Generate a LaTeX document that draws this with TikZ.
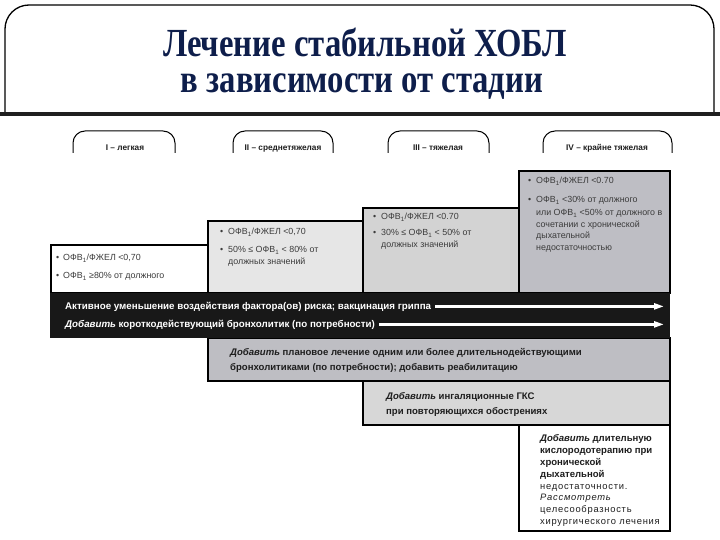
\documentclass[tikz,border=0pt]{standalone}
\usepackage{fontspec}
\setmainfont{Liberation Sans}
\newfontfamily\titlefont[FakeStretch=0.82]{Liberation Serif}
\newfontfamily\spacedfont[LetterSpace=8]{Liberation Sans}
\usetikzlibrary{arrows.meta}
\definecolor{titleblue}{RGB}{14,30,75}
\definecolor{cII}{RGB}{230,230,230}
\definecolor{cIII}{RGB}{211,211,211}
\definecolor{cIV}{RGB}{190,190,196}
\definecolor{cplan}{RGB}{190,190,195}
\definecolor{cgks}{RGB}{215,215,215}
\definecolor{band}{RGB}{24,24,24}
\definecolor{stxt}{RGB}{60,60,60}
\definecolor{btxt}{RGB}{30,30,30}
\newcommand{\ofv}{ОФВ\textsubscript{1}}
\begin{document}
\begin{tikzpicture}[x=1bp,y=-1bp,
  frame/.style={draw=black,line width=1.3bp},
  tabline/.style={draw=black,line width=1bp,rounded corners=12bp},
  tablabel/.style={font=\fontsize{8.3}{9}\selectfont\bfseries,text=btxt,inner sep=0pt,anchor=base},
  boxline/.style={draw=black,line width=1.3bp},
  stage/.style={font=\fontsize{8.9}{12}\selectfont,text=stxt,inner sep=0pt,anchor=base west},
  bandtxt/.style={font=\fontsize{9.8}{11}\selectfont\bfseries,text=white,inner sep=0pt,anchor=base west},
  treat/.style={font=\fontsize{9.6}{15}\selectfont\bfseries,text=btxt,inner sep=0pt,anchor=base west},
  oxyb/.style={font=\fontsize{9.6}{12}\selectfont\bfseries,text=btxt,inner sep=0pt,anchor=base west},
  oxyr/.style={font=\spacedfont\fontsize{9.4}{12}\selectfont,text=btxt,inner sep=0pt,anchor=base west},
  warrow/.style={draw=white,line width=2.4bp,-{Triangle[length=10bp,width=6bp]}}
]
\useasboundingbox (0,0) rectangle (720,540);
% header frame
\draw[frame,rounded corners=24bp] (5,114) -- (5,5) -- (714,5) -- (714,114);
\draw[black!88,line width=4bp] (0,114) -- (720,114);
\node[font=\titlefont\fontsize{40}{40}\selectfont\bfseries,text=titleblue,anchor=base,inner sep=0pt] (t1) at (365,57) {Лечение стабильной ХОБЛ};
\node[font=\titlefont\fontsize{40}{40}\selectfont\bfseries,text=titleblue,anchor=base,inner sep=0pt] (t2) at (362,93) {в зависимости от стадии};
% tabs
\draw[tabline] (73,153) -- (73,131) -- (175,131) -- (175,153);
\draw[tabline] (233,153) -- (233,131) -- (333,131) -- (333,153);
\draw[tabline] (388,153) -- (388,131) -- (489,131) -- (489,153);
\draw[tabline] (543,153) -- (543,131) -- (672,131) -- (672,153);
\node[tablabel] (s1) at (125,151) {I – легкая};
\node[tablabel] (s2) at (283,151) {II – среднетяжелая};
\node[tablabel] (s3) at (438,151) {III – тяжелая};
\node[tablabel] (s4) at (607,151) {IV – крайне тяжелая};
% stage boxes
\path[boxline,fill=cIV] (519,171) rectangle (670,293);
\path[boxline,fill=cIII] (363,208) rectangle (519,293);
\path[boxline,fill=cII] (208,221) rectangle (363,293);
\path[boxline,fill=white] (51,245) rectangle (208,293);
% treatment boxes
\path[boxline,fill=cplan] (208,338) rectangle (670,381);
\path[boxline,fill=cgks] (363,381) rectangle (670,425);
\path[boxline,fill=white] (519,425) rectangle (670,531);
\path[fill=band] (50,293) rectangle (670,338);
% stage I
\node[stage] (b11) at (56,261) {•};
\node[stage] (a11) at (63,261) {\ofv/ФЖЕЛ <0,70};
\node[stage] (b12) at (56,279) {•};
\node[stage] (a12) at (63,279) {\ofv{} ≥80\% от должного};
% stage II
\node[stage] (b21) at (220,235) {•};
\node[stage] (a21) at (228,235) {\ofv/ФЖЕЛ <0,70};
\node[stage] (b22) at (220,253) {•};
\node[stage] (a22) at (228,253) {50\% ≤ \ofv{} < 80\% от};
\node[stage] (a23) at (228,265) {должных значений};
% stage III
\node[stage] (b31) at (373,220) {•};
\node[stage] (a31) at (381,220) {\ofv/ФЖЕЛ <0.70};
\node[stage] (b32) at (373,236) {•};
\node[stage] (a32) at (381,236) {30\% ≤ \ofv{} < 50\% от};
\node[stage] (a33) at (381,248) {должных значений};
% stage IV
\node[stage] (b41) at (528,184) {•};
\node[stage] (a41) at (536,184) {\ofv/ФЖЕЛ <0.70};
\node[stage] (b42) at (528,203) {•};
\node[stage] (a42) at (536,203) {\ofv{} <30\% от должного};
\node[stage] (a43) at (536,216) {или \ofv{} <50\% от должного в};
\node[stage] (a44) at (536,228) {сочетании с хронической};
\node[stage] (a45) at (536,239) {дыхательной};
\node[stage] (a46) at (536,251) {недостаточностью};
% band
\node[bandtxt] (r1) at (65,309) {Активное уменьшение воздействия фактора(ов) риска; вакцинация гриппа};
\node[bandtxt] (r2) at (65,327) {\textit{Добавить} короткодействующий бронхолитик (по потребности)};
\coordinate (e1) at (664,0);
\draw[warrow] ([xshift=4bp]r1.east) -- (r1.east -| e1);
\draw[warrow] ([xshift=4bp]r2.east) -- (r2.east -| e1);
% treatments
\node[treat] (p1) at (230,355) {\textit{Добавить} плановое лечение одним или более длительнодействующими};
\node[treat] (p2) at (230,370) {бронхолитиками (по потребности); добавить реабилитацию};
\node[treat] (g1) at (386,399) {\textit{Добавить} ингаляционные ГКС};
\node[treat] (g2) at (386,414) {при повторяющихся обострениях};
\node[oxyb] (o1) at (540,441) {\textit{Добавить} длительную};
\node[oxyb] (o2) at (540,453) {кислородотерапию при};
\node[oxyb] (o3) at (540,465) {хронической};
\node[oxyb] (o4) at (540,477) {дыхательной};
\node[oxyr] (o5) at (540,489) {недостаточности.};
\node[oxyr] (o6) at (540,500) {\textit{Рассмотреть}};
\node[oxyr] (o7) at (540,512) {целесообразность};
\node[oxyr] (o8) at (540,524) {хирургического лечения};
\end{tikzpicture}
\end{document}
